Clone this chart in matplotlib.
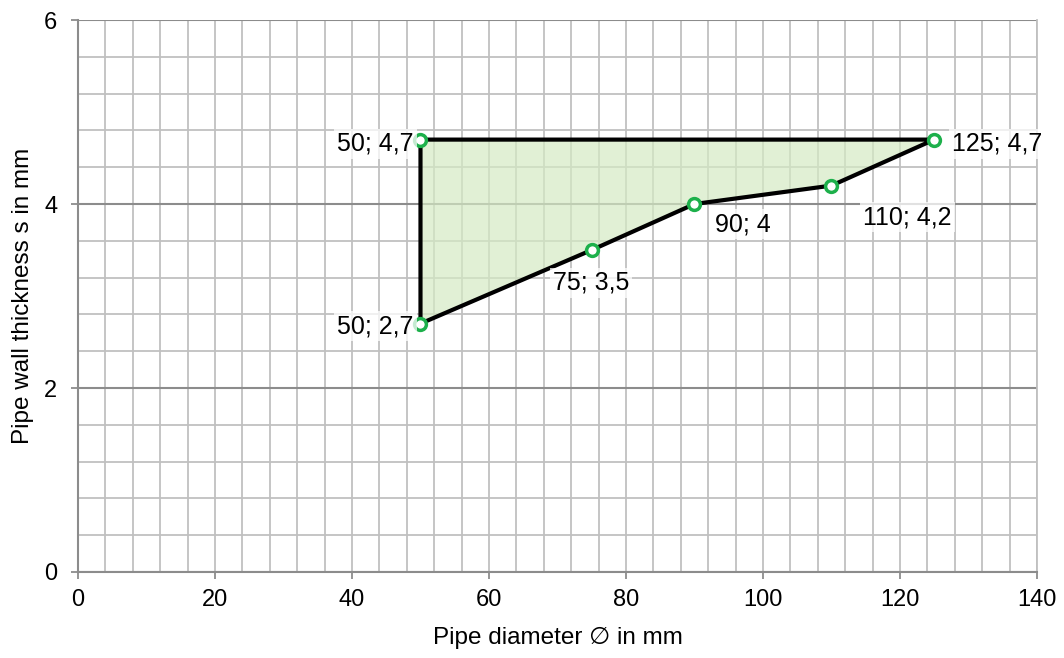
import matplotlib.pyplot as plt
import numpy as np

plt.rcParams['font.family'] = ['Liberation Sans', 'DejaVu Sans']

# outline of the admissible range (diameter, wall thickness)
diameters = [50, 125, 110, 90, 75, 50]
thickness = [4.7, 4.7, 4.2, 4.0, 3.5, 2.7]
point_labels = ["50; 4,7", "125; 4,7", "110; 4,2", "90; 4", "75; 3,5", "50; 2,7"]

# label offsets in points and alignment per point
label_pos = [(-5, -3, 'right', 'center'),
             (13, -3, 'left', 'center'),
             (23, -14, 'left', 'top'),
             (15, -6, 'left', 'top'),
             (-28, -15, 'left', 'top'),
             (-5, -2, 'right', 'center')]

fig = plt.figure(figsize=(10.64, 6.58), dpi=100)
ax = fig.add_axes([0.0733, 0.1307, 0.9013, 0.8389])

ax.set_xlim(0, 140)
ax.set_ylim(0, 6)
ax.set_xticks(np.arange(0, 141, 20))
ax.set_yticks([0, 2, 4, 6])
ax.set_xticks(np.arange(0, 141, 4), minor=True)
ax.set_yticks(np.arange(0, 6.01, 0.4), minor=True)

ax.grid(which='minor', color='#c0c0c0', linewidth=1.3)
ax.grid(which='major', axis='x', color='#c0c0c0', linewidth=1.3)
ax.grid(which='major', axis='y', color='#8c8c8c', linewidth=1.5)
ax.set_axisbelow(True)

ax.tick_params(which='major', length=5, color='#8c8c8c', labelsize=17, width=1.3)
ax.tick_params(axis='x', pad=7)
ax.tick_params(axis='y', pad=10)
ax.tick_params(which='minor', length=0)
for side in ['left', 'bottom']:
    ax.spines[side].set_color('#8c8c8c')
    ax.spines[side].set_linewidth(1.5)
ax.spines['top'].set_visible(False)
ax.spines['right'].set_color('#c0c0c0')
ax.spines['right'].set_linewidth(1.3)

xs = diameters + [diameters[0]]
ys = thickness + [thickness[0]]
ax.fill(xs, ys, color='#d5eac4', alpha=0.7, zorder=2)
ax.plot(xs, ys, color='black', linewidth=3, zorder=3)
ax.plot(diameters, thickness, linestyle='none', marker='o', markersize=8.5,
        markerfacecolor='white', markeredgecolor='#1db04b', markeredgewidth=2.5, zorder=4)

for x, y, lab, (dx, dy, ha, va) in zip(diameters, thickness, point_labels, label_pos):
    ax.annotate(lab, (x, y), xytext=(dx, dy), textcoords='offset points',
                ha=ha, va=va, fontsize=18, zorder=5,
                bbox=dict(boxstyle='square,pad=0.12', fc='white', ec='none', alpha=0.75))

ax.set_xlabel("Pipe diameter \u2205 in mm", fontsize=17.5, labelpad=12)
ax.set_ylabel("Pipe wall thickness s in mm", fontsize=17.5, labelpad=7)

fig.savefig("out.png", dpi=100)
